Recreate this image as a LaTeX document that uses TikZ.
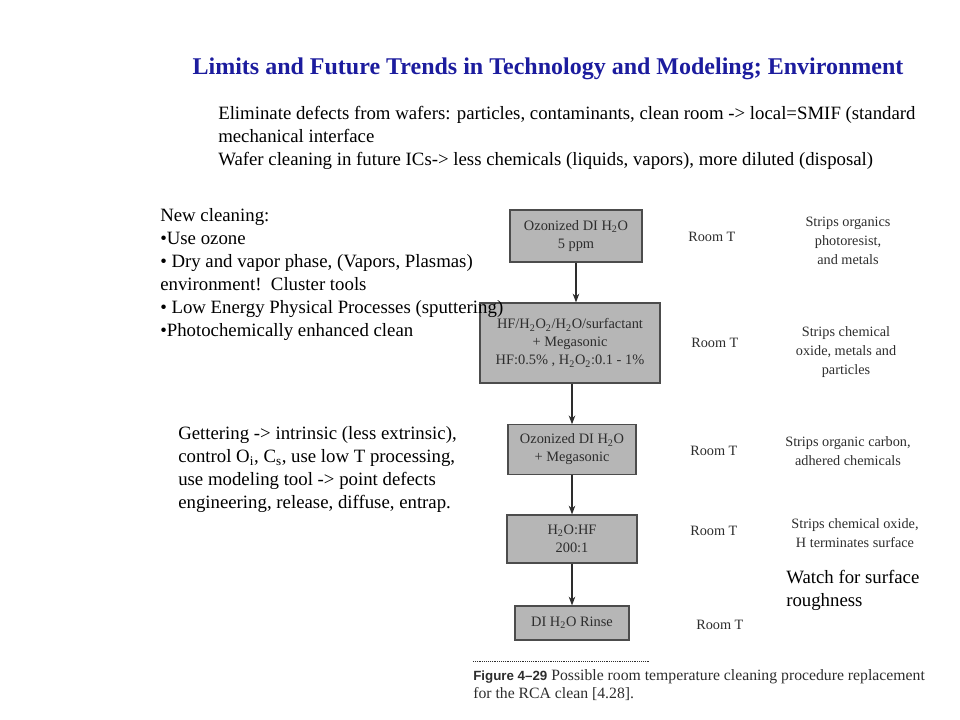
\documentclass[tikz,border=0pt]{standalone}
\usepackage{fontspec}
\setmainfont{Liberation Serif}
\setsansfont{Liberation Sans}
\usetikzlibrary{arrows.meta,positioning}
\definecolor{ttl}{RGB}{28,28,158}
\definecolor{scan}{RGB}{45,45,45}
\definecolor{boxfill}{RGB}{182,182,182}
\begin{document}
\begin{tikzpicture}[x=0.75pt,y=-0.75pt,>=Stealth,
 body/.style={anchor=north west,inner sep=0pt,align=left,font=\fontsize{14.1}{17.25}\selectfont},
 stage/.style={draw=black!70,line width=0.9pt,fill=boxfill,align=center,text=scan,inner sep=2pt,font=\fontsize{10.8}{13.5}\selectfont},
 cond/.style={anchor=west,inner sep=0pt,text=scan,font=\fontsize{10.7}{13}\selectfont},
 effect/.style={align=center,inner sep=0pt,text=scan,font=\fontsize{10.7}{14}\selectfont},
 flow/.style={->,draw=scan,line width=0.8pt}]
\useasboundingbox (0,0) rectangle (960,720);
\node[font=\fontsize{18}{22}\selectfont\bfseries,text=ttl,inner sep=0pt] (title) at (548,69) {Limits and Future Trends in Technology and Modeling; Environment};
\node[stage,minimum width=99pt,minimum height=39pt] (s1) at (576,236) {Ozonized DI H\textsubscript{2}O\\5 ppm};
\node[stage,minimum width=135pt,minimum height=60pt] (s2) at (570,343) {HF/H\textsubscript{2}O\textsubscript{2}/H\textsubscript{2}O/surfactant\\+ Megasonic\\HF:0.5\% , H\textsubscript{2}O\textsubscript{2}:0.1 - 1\%};
\node[stage,minimum width=96pt,minimum height=37pt] (s3) at (572,449.5) {Ozonized DI H\textsubscript{2}O\\+ Megasonic};
\node[stage,minimum width=97.5pt,minimum height=36pt] (s4) at (572,539) {H\textsubscript{2}O:HF\\200:1};
\node[stage,minimum width=85.5pt,minimum height=25.5pt] (s5) at (572,623) {DI H\textsubscript{2}O Rinse};
\draw[flow] (s1.south) -- (s1.south |- s2.north);
\draw[flow] (s3.north |- s2.south) -- (s3.north);
\draw[flow] (s3.south) -- (s4.north);
\draw[flow] (s4.south) -- (s5.north);
\node[cond] (t1) at (688,237) {Room T};
\node[cond] (t2) at (691,343) {Room T};
\node[cond] (t3) at (690,451) {Room T};
\node[cond] (t4) at (690,531) {Room T};
\node[cond] (t5) at (696,625) {Room T};
\node[effect] (e1) at (848,241) {Strips organics\\photoresist,\\and metals};
\node[effect] (e2) at (846,352) {Strips chemical\\oxide, metals and\\particles};
\node[effect] (e3) at (848,451) {Strips organic carbon,\\adhered chemicals};
\node[effect] (e4) at (855,533) {Strips chemical oxide,\\H terminates surface};
\coordinate (r1) at (473,661);
\coordinate (r2) at (650,661);
\draw[scan,densely dotted] (r1) -- (r2);
\node[anchor=north west,inner sep=0pt,align=left,text=scan,font=\fontsize{11.8}{13.5}\selectfont] (cap) at (473,669) {{\sffamily\bfseries\fontsize{10}{13.5}\selectfont Figure 4--29} Possible room temperature cleaning procedure replacement\\for the RCA clean [4.28].};
\node[body] (intro) at (218,106) {Eliminate defects from wafers: particles, contaminants, clean room -> local=SMIF (standard\\mechanical interface\\Wafer cleaning in future ICs-> less chemicals (liquids, vapors), more diluted (disposal)};
\node[body] (newcl) at (160,208) {New cleaning:\\\textbullet Use ozone\\\textbullet{} Dry and vapor phase, (Vapors, Plasmas)\\environment!\ \ Cluster tools\\\textbullet{} Low Energy Physical Processes (sputtering)\\\textbullet Photochemically enhanced clean};
\node[body] (getter) at (178,426) {Gettering -> intrinsic (less extrinsic),\\control O\textsubscript{i}, C\textsubscript{s}, use low T processing,\\use modeling tool -> point defects\\engineering, release, diffuse, entrap.};
\node[body] (watch) at (786,570) {Watch for surface\\roughness};
\end{tikzpicture}
\end{document}
